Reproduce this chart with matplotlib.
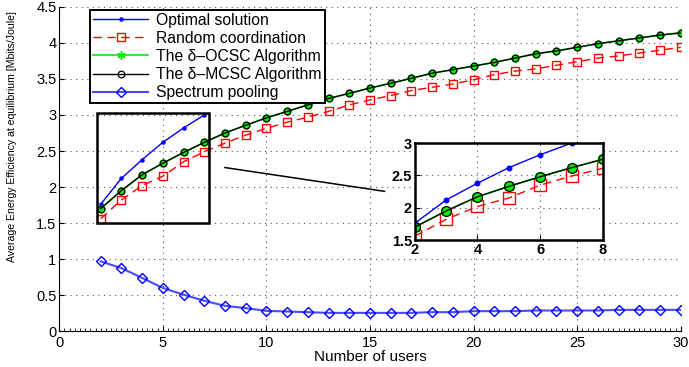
import matplotlib
matplotlib.use('Agg')
import matplotlib.pyplot as plt
from matplotlib.patches import Rectangle
from matplotlib.lines import Line2D
from matplotlib.ticker import MultipleLocator, FormatStrFormatter

plt.rcParams['font.family'] = ['Liberation Sans', 'DejaVu Sans']

# Data
users = list(range(2, 31))
optimal_users = list(range(2, 8))
optimal = [1.76, 2.12, 2.38, 2.62, 2.82, 3.00]
random_coord = [1.56, 1.82, 2.02, 2.15, 2.35, 2.49, 2.61, 2.72, 2.815, 2.90,
                2.97, 3.05, 3.14, 3.21, 3.27, 3.34, 3.385, 3.43, 3.49, 3.56,
                3.61, 3.64, 3.69, 3.74, 3.79, 3.82, 3.86, 3.90, 3.94]
csc = [1.70, 1.95, 2.17, 2.33, 2.48, 2.62, 2.75, 2.857, 2.96, 3.05,
       3.14, 3.23, 3.30, 3.375, 3.44, 3.51, 3.58, 3.63, 3.68, 3.73,
       3.79, 3.85, 3.89, 3.94, 3.99, 4.03, 4.07, 4.11, 4.14]
pooling = [0.967, 0.874, 0.738, 0.598, 0.505, 0.42, 0.35, 0.318, 0.28, 0.271,
           0.262, 0.252, 0.252, 0.252, 0.252, 0.252, 0.262, 0.262, 0.276, 0.276,
           0.276, 0.285, 0.285, 0.285, 0.285, 0.294, 0.294, 0.294, 0.294]

labels = ['Optimal solution', 'Random coordination', 'The δ\u2013OCSC Algorithm',
          'The δ\u2013MCSC Algorithm', 'Spectrum pooling']

# zoom box and connector (data coords)
zoom_box = (1.82, 1.5, 5.43, 1.53)
connector_x = [8.0, 15.7]
connector_y = [2.27, 1.94]

ASTERISK = (6, 2, 0)


def draw_series(ax, ms_scale=1.0, with_pooling=True):
    h = []
    h += ax.plot(optimal_users, optimal, '-', color='#0000ff', marker='.', ms=4.5 * ms_scale, lw=1)
    h += ax.plot(users, random_coord, '--', color='#ff0000', marker='s', ms=5.5 * ms_scale,
                 mfc='none', mew=1, lw=1, dashes=(6, 4))
    h += ax.plot(users, csc, '-', color='#00ee00', marker=ASTERISK, ms=5.5 * ms_scale, mew=2.4, lw=1.2)
    h += ax.plot(users, csc, '-', color='black', marker='o', ms=4.8 * ms_scale, mfc='none', mew=0.9, lw=1)
    if with_pooling:
        h += ax.plot(users, pooling, '-', color='#4a4aff', marker='D', ms=5, mfc='none',
                     mec='#0000ff', mew=1, lw=1.5)
    return h


fig = plt.figure(figsize=(6.89, 3.67), dpi=100)
ax = fig.add_axes([0.086, 0.098, 0.902, 0.883])
handles = draw_series(ax)
ax.set_xlim(0, 30)
ax.set_ylim(0, 4.5)
ax.yaxis.set_major_locator(MultipleLocator(0.5))
ax.yaxis.set_major_formatter(FormatStrFormatter('%g'))
ax.xaxis.set_minor_locator(MultipleLocator(0.25))
ax.tick_params(which='both', direction='in', labelsize=10.5)
ax.tick_params(axis='y', pad=2)
ax.tick_params(which='minor', length=2)
ax.spines['top'].set_visible(False)
ax.spines['right'].set_visible(False)
ax.grid(True, linestyle=(0, (1, 4)), color='#555555', linewidth=0.8)
ax.set_xlabel('Number of users', fontsize=11, labelpad=0)
ax.set_ylabel('Average Energy Efficiency at equilibrium [Mbits/Joule]', fontsize=7.6)
ax.yaxis.set_label_coords(-0.068, 0.6)

ax.add_patch(Rectangle(zoom_box[:2], zoom_box[2], zoom_box[3], fill=False,
                       ec='black', lw=1.8, zorder=5))
ax.plot(connector_x, connector_y, color='black', lw=1.1)

# legend shows the thin asterisk for the OCSC curve
handles[2] = Line2D([], [], color='#00ee00', marker=ASTERISK, ms=6, mew=1, lw=1.2)
leg = ax.legend(handles, labels, loc='upper left', bbox_to_anchor=(0.05, 0.992), fontsize=11.3,
                frameon=True, fancybox=False, edgecolor='black', framealpha=1,
                handlelength=3.5, borderpad=0.2, labelspacing=0.2, handletextpad=0.5,
                borderaxespad=0)
leg.get_frame().set_linewidth(1.4)

# inset
ins = fig.add_axes([0.602, 0.346, 0.273, 0.264])
draw_series(ins, ms_scale=1.45, with_pooling=False)
ins.set_xlim(2, 8)
ins.set_ylim(1.5, 3)
ins.set_xticks([2, 4, 6, 8])
ins.set_yticks([1.5, 2, 2.5, 3])
ins.yaxis.set_major_formatter(FormatStrFormatter('%g'))
ins.tick_params(direction='in', labelsize=10.5, pad=2)
for lab in ins.get_xticklabels() + ins.get_yticklabels():
    lab.set_fontweight('bold')
for sp in ins.spines.values():
    sp.set_linewidth(1.8)
ins.grid(True, linestyle=(0, (1, 4)), color='#555555', linewidth=0.8)

fig.savefig('out.png', dpi=100)
